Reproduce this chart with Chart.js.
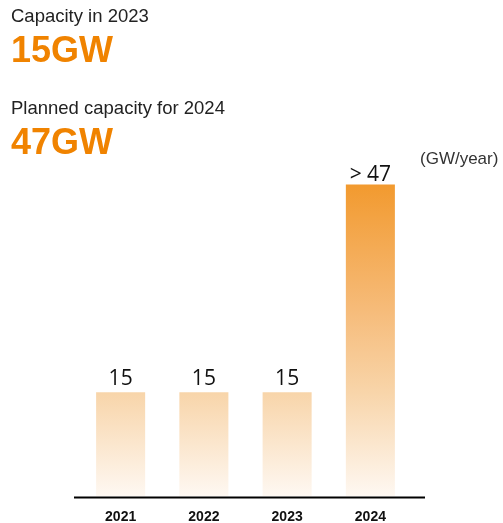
<!DOCTYPE html>
<html>
<head>
<meta charset="utf-8">
<script src="https://cdn.jsdelivr.net/npm/chart.js@4"></script>
<style>
  html, body { margin: 0; padding: 0; background: #fff; }
  #wrap { position: relative; width: 503px; height: 523px; overflow: hidden; }
  #wrap canvas { position: absolute; left: 0; top: 0; }
  .txt { position: absolute; white-space: nowrap; font-family: "Liberation Sans", Arial, sans-serif; line-height: 1; }
  .sub { font-size: 18.5px; color: #222; }
  .big { font-size: 36px; font-weight: bold; color: #F08300; }
  .unit { font-size: 17px; color: #333; }
</style>
</head>
<body>
<div id="wrap">
  <canvas id="c" width="503" height="523"></canvas>
  <div class="txt sub" style="left:11px; top:7px;">Capacity in 2023</div>
  <div class="txt big" style="left:11px; top:32px;">15GW</div>
  <div class="txt sub" style="left:11px; top:99px;">Planned capacity for 2024</div>
  <div class="txt big" style="left:11px; top:124px;">47GW</div>
  <div class="txt unit" style="left:420px; top:150px;">(GW/year)</div>
</div>
<script>
// capacity per year (GW/year)
const years = ['2021', '2022', '2023', '2024'];
const capacity = [15, 15, 15, 45];
const valueLabels = ['15', '15', '15', '> 47'];
const yMax = 50;

// gradient fill + axis line + labels
const decorPlugin = {
    id: 'decor',
    beforeDatasetsDraw(chart) {
        const area = chart.chartArea;
        const y = chart.scales.y;
        const top = y.getPixelForValue(Math.max(...capacity));
        const g = chart.ctx.createLinearGradient(0, top, 0, area.bottom);
        g.addColorStop(0, '#F29A2F');
        g.addColorStop(0.4, '#F6BB79');
        g.addColorStop(0.67, '#F8D5AA');
        g.addColorStop(1, '#FEF8F2');
        chart.data.datasets[0].backgroundColor = g;
        chart.getDatasetMeta(0).data.forEach(b => { b.options.backgroundColor = g; });
    },
    afterDatasetsDraw(chart) {
        const ctx = chart.ctx;
        const area = chart.chartArea;
        const x = chart.scales.x;
        ctx.save();
        // baseline
        ctx.strokeStyle = '#000';
        ctx.lineWidth = 2;
        ctx.beginPath();
        ctx.moveTo(74, area.bottom + 1.5);
        ctx.lineTo(425, area.bottom + 1.5);
        ctx.stroke();
        // category labels
        ctx.fillStyle = '#111';
        ctx.font = 'bold 14px "Liberation Sans", Arial, sans-serif';
        ctx.textAlign = 'center';
        ctx.textBaseline = 'alphabetic';
        years.forEach((yr, i) => {
            ctx.fillText(yr, x.getPixelForValue(i), area.bottom + 25);
        });
        // value labels
        ctx.font = '21px "Open Sans", "Liberation Sans", sans-serif';
        chart.getDatasetMeta(0).data.forEach((bar, i) => {
            ctx.fillText(valueLabels[i], bar.x, bar.y - (i === 3 ? 4 : 7));
        });
        ctx.restore();
    }
};

new Chart(document.getElementById('c').getContext('2d'), {
    type: 'bar',
    data: {
        labels: years,
        datasets: [{
            data: capacity,
            backgroundColor: '#F8D5AA',
            borderWidth: 0,
            barPercentage: 0.589,
            categoryPercentage: 1
        }]
    },
    options: {
        responsive: false,
        animation: false,
        layout: { padding: { left: 79, right: 91, top: 150, bottom: 27 } },
        scales: {
            x: { display: false },
            y: { display: false, min: 0, max: yMax }
        },
        plugins: {
            legend: { display: false },
            tooltip: { enabled: false }
        }
    },
    plugins: [decorPlugin]
});
</script>
</body>
</html>
